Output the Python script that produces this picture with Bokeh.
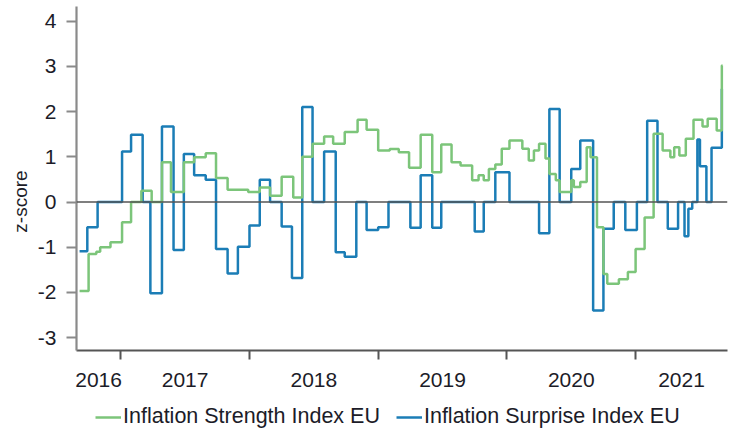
import math
from bokeh.plotting import figure
from bokeh.layouts import row, column
from bokeh.models import (FixedTicker, Legend, LegendItem, Label, Span, Range1d)
from bokeh.embed import file_html
from bokeh.resources import INLINE

# ---- data (decimal years, z-scores) ----
surprise_dates = [2016.68, 2016.74, 2016.82,
                  2017.01, 2017.08, 2017.17, 2017.23, 2017.32, 2017.41, 2017.49, 2017.57, 2017.66, 2017.74, 2017.83, 2017.91,
                  2018.00, 2018.08, 2018.16, 2018.25, 2018.33, 2018.41, 2018.49, 2018.58, 2018.67, 2018.74, 2018.83, 2018.91,
                  2019.00, 2019.08, 2019.25, 2019.33, 2019.42, 2019.49, 2019.75, 2019.82, 2019.91,
                  2020.02, 2020.25, 2020.33, 2020.41, 2020.50, 2020.57, 2020.67, 2020.75, 2020.83, 2020.92,
                  2021.01, 2021.09, 2021.17, 2021.25, 2021.33, 2021.38, 2021.41, 2021.44, 2021.48, 2021.50, 2021.55, 2021.59, 2021.67]
surprise_vals = [-1.09, -0.56, 0,
                 1.12, 1.49, 0, -2.02, 1.67, -1.06, 1.06, 0.59, 0.49, -1.04, -1.58, -0.99,
                 -0.52, 0.49, 0, -0.54, -1.68, 2.1, 0, 1.12, -1.11, -1.21, 0, -0.62,
                 -0.56, 0, -0.57, 0.59, -0.57, 0, -0.65, 0, 0.66,
                 0, -0.69, 2.06, 0, 0.73, 1.36, -2.4, -0.59, 0, -0.62,
                 0, 1.8, 0, -0.59, 0, -0.76, -0.15, 0, 1.38, 0.79, 0, 1.2, 2.5]

strength_dates = [2016.68, 2016.75, 2016.81, 2016.84, 2016.92,
                  2017.01, 2017.08, 2017.16, 2017.24, 2017.32, 2017.39, 2017.49, 2017.57, 2017.66, 2017.74, 2017.83, 2017.99,
                  2018.08, 2018.16, 2018.25, 2018.34, 2018.41, 2018.49, 2018.58, 2018.65, 2018.74, 2018.84, 2018.91,
                  2019.00, 2019.09, 2019.16, 2019.24, 2019.33, 2019.42, 2019.49, 2019.57, 2019.64, 2019.73, 2019.78, 2019.82,
                  2019.86, 2019.91, 2019.96,
                  2020.02, 2020.12, 2020.17, 2020.21, 2020.25, 2020.30, 2020.33, 2020.38, 2020.41, 2020.50, 2020.52, 2020.57,
                  2020.62, 2020.65, 2020.70, 2020.75, 2020.78, 2020.87, 2020.94,
                  2021.00, 2021.07, 2021.14, 2021.21, 2021.27, 2021.30, 2021.34, 2021.39, 2021.45, 2021.52, 2021.56, 2021.63, 2021.67]
strength_vals = [-1.97, -1.15, -1.1, -1.0, -0.89,
                 -0.45, 0.0, 0.25, 0.0, 0.88, 0.22, 0.88, 0.99, 1.08, 0.53, 0.27, 0.22,
                 0.32, 0.14, 0.56, 0.1, 1.0, 1.29, 1.45, 1.29, 1.55, 1.82, 1.6,
                 1.14, 1.17, 1.1, 0.76, 1.49, 0.66, 1.27, 0.88, 0.81, 0.48, 0.59, 0.48,
                 0.73, 0.83, 1.18,
                 1.36, 1.18, 0.92, 1.14, 1.29, 0.96, 0.62, 0.48, 0.22, 0.48, 0.33, 0.44,
                 1.21, 0.99, -0.56, -1.59, -1.81, -1.71, -1.55,
                 -1.04, -0.34, 1.51, 1.14, 0.99, 1.21, 1.03, 1.4, 1.82, 1.67, 1.84, 1.58, 3.02]

end_date = 2021.675
years = [2016, 2017, 2018, 2019, 2020, 2021]
year_labels = ["2016", "2017", "2018", "2019", "2020", "2021"]
y_ticks = [-3, -2, -1, 0, 1, 2, 3, 4]
y_tick_labels = ["-3", "-2", "-1", "0", "1", "2", "3", "4"]
series_names = ["Inflation Strength Index EU", "Inflation Surprise Index EU"]
y_title = "z-score"

x_start, x_end = 2016.656, 2021.714
y_start, y_end = -3.285, 4.325

FONT = "Liberation Sans"
TXT = "#1c1c28"
GREEN = "#7cc57a"
BLUE = "#1b7db6"
FS = "21px"
NAN = float("nan")

# ---- main chart ----
p = figure(width=699, height=390, output_backend="svg", toolbar_location=None,
           x_range=Range1d(x_start, x_end), y_range=Range1d(y_start, y_end),
           min_border_left=44, min_border_right=4, min_border_top=6, min_border_bottom=40)
p.grid.visible = False
p.outline_line_color = None

p.add_layout(Span(location=0, dimension="width", line_color="#555555", line_width=1.6))

sx = list(surprise_dates) + [end_date]
sy = list(surprise_vals) + [surprise_vals[-1]]
gx = list(strength_dates) + [end_date]
gy = list(strength_vals) + [strength_vals[-1]]

p.step(sx, sy, mode="after", line_color=BLUE, line_width=2.5)
p.step(gx, gy, mode="after", line_color=GREEN, line_width=2.5)

ya = p.yaxis[0]
ya.ticker = FixedTicker(ticks=y_ticks)
ya.major_label_overrides = {t: s for t, s in zip(y_ticks, y_tick_labels)}
ya.axis_line_color = "#8a8a8a"
ya.axis_line_width = 2.2
ya.major_tick_line_color = "#8a8a8a"
ya.major_tick_line_width = 2
ya.major_tick_out = 10
ya.major_tick_in = 0
ya.minor_tick_out = 0
ya.minor_tick_in = 0
ya.major_label_standoff = 10
ya.major_label_text_font = FONT
ya.major_label_text_font_size = FS
ya.major_label_text_color = TXT

bounds = [x_start] + years[1:] + [x_end]
mids = [round((bounds[i] + bounds[i + 1]) / 2, 4) for i in range(len(years))]
xa = p.xaxis[0]
xa.ticker = FixedTicker(ticks=mids, minor_ticks=years[1:])
xa.major_label_overrides = {m: lab for m, lab in zip(mids, year_labels)}
xa.axis_line_color = "#555555"
xa.axis_line_width = 2
xa.major_tick_out = 0
xa.major_tick_in = 0
xa.minor_tick_line_color = "#555555"
xa.minor_tick_line_width = 2
xa.minor_tick_out = 9
xa.minor_tick_in = 0
xa.major_label_standoff = 13
xa.major_label_text_font = FONT
xa.major_label_text_font_size = FS
xa.major_label_text_color = TXT

# ---- y-axis title strip ----
lab_fig = figure(width=32, height=429, output_backend="svg", toolbar_location=None,
                 x_range=Range1d(0, 32), y_range=Range1d(0, 429),
                 min_border_left=0, min_border_right=0, min_border_top=0, min_border_bottom=0)
lab_fig.axis.visible = False
lab_fig.grid.visible = False
lab_fig.outline_line_color = None
lab_fig.add_layout(Label(x=20, y=228, text=y_title, angle=math.pi / 2,
                         text_align="center", text_baseline="middle",
                         text_font=FONT, text_font_size="19px", text_color=TXT))

# ---- legend strip ----
leg_fig = figure(width=699, height=39, output_backend="svg", toolbar_location=None,
                 x_range=Range1d(0, 1), y_range=Range1d(0, 1),
                 min_border_left=0, min_border_right=0, min_border_top=0, min_border_bottom=0)
leg_fig.axis.visible = False
leg_fig.grid.visible = False
leg_fig.outline_line_color = None
lg = leg_fig.line([NAN, NAN], [NAN, NAN], line_color=GREEN, line_width=2.5)
lb = leg_fig.line([NAN, NAN], [NAN, NAN], line_color=BLUE, line_width=2.5)
legend = Legend(items=[LegendItem(label=series_names[0], renderers=[lg]),
                       LegendItem(label=series_names[1], renderers=[lb])],
                orientation="horizontal", location=(19, 0),
                label_text_font=FONT, label_text_font_size="21.5px", label_text_color=TXT,
                glyph_width=26, glyph_height=18, label_standoff=2, spacing=16,
                padding=0, margin=0, border_line_alpha=0, background_fill_alpha=0)
leg_fig.add_layout(legend, "center")

layout = row(lab_fig, column(p, leg_fig))
open("out.html", "w").write(file_html(layout, INLINE))
